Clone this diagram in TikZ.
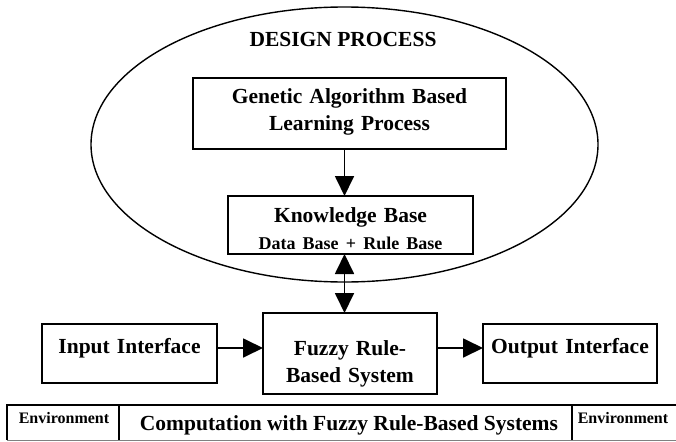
\documentclass[tikz,border=0pt]{standalone}
\usepackage{fontspec}
\setmainfont{Liberation Serif}
\usetikzlibrary{shapes.geometric,arrows.meta}

\begin{document}
\begin{tikzpicture}[x=1pt, y=-1pt, >={Triangle[length=20pt,width=19pt]},
        every node/.style={font=\bfseries\fontsize{21.5}{27}\selectfont, inner sep=0pt, outer sep=0pt},
        box/.style={draw, line width=1.4pt, align=center, anchor=north west},
        link/.style={line width=1.8pt},
        small/.style={font=\bfseries\fontsize{16}{19}\selectfont}]
    \useasboundingbox (0, 0) rectangle (676, 441);

    % Nodes
    \node[draw, ellipse, line width=1.4pt, minimum width=507pt, minimum height=275pt] at (344.5, 144.5) (design) {};
    \node[anchor=base] at (343, 47) (title) {DESIGN PROCESS};
    \node[box, text width=313pt, text height=25pt, text depth=46pt] at (193, 78) (ga) {Genetic Algorithm Based\\Learning Process};
    \node[box, text width=245pt, text height=26pt, text depth=32pt] at (228, 196) (kb) {Knowledge Base\\\fontsize{18}{22}\selectfont Data Base + Rule Base};
    \node[box, text width=174pt, text height=42pt, text depth=39pt] at (263, 313) (frbs) {Fuzzy Rule-\\Based System};
    \node[box, text width=175pt, text height=29pt, text depth=30pt] at (42, 324) (input) {Input Interface};
    \node[box, text width=174pt, text height=29pt, text depth=30pt] at (483, 324) (output) {Output Interface};

    % Edges
    \draw[link, ->] ([xshift=-5pt]ga.south) -- ([xshift=-5pt]ga.south |- kb.north);

    \draw[link, <->] ([xshift=-6pt]kb.south) -- ([xshift=-6pt]kb.south |- frbs.north);

    \draw[link, ->] ([yshift=5.5pt]input.east) -- ([yshift=5.5pt]input.east -| frbs.west);

    \draw[link, ->] ([yshift=5.5pt]input.east -| frbs.east) -- ([yshift=5.5pt]input.east -| output.west);

    % Bottom strip
    \draw[line width=1.4pt] (676, 405) -- (7, 405) -- (7, 440);
    \draw[gray, line width=0.8pt] (7, 440) -- (676, 440);
    \draw[line width=2pt] (119, 405) -- (119, 440);
    \draw[line width=2pt] (572, 405) -- (572, 440);
    \node[small, anchor=base] at (64, 423) (envin) {Environment};
    \node[anchor=base] at (349, 430) (compute) {Computation with Fuzzy Rule-Based Systems};
    \node[small, anchor=base] at (623, 423) (envout) {Environment};
\end{tikzpicture}
\end{document}
